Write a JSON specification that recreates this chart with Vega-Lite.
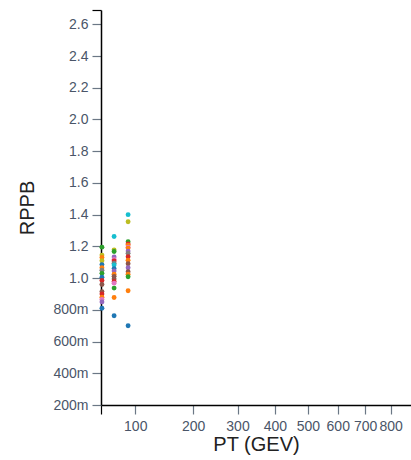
{
  "$schema": "https://vega.github.io/schema/vega-lite/v6.json",
  "width": 310,
  "height": 395,
  "autosize": "none",
  "padding": {"left": 101, "top": 10, "right": 0, "bottom": 55},
  "background": "white",
  "config": {"view": {"stroke": null}, "font": "Liberation Sans"},
  "data": {"values": [
    {"pt": 58, "rppb": 1.195, "series": "S2"},
    {"pt": 58, "rppb": 1.145, "series": "S8"},
    {"pt": 58, "rppb": 1.13, "series": "S1"},
    {"pt": 58, "rppb": 1.11, "series": "S8"},
    {"pt": 58, "rppb": 1.085, "series": "S0"},
    {"pt": 58, "rppb": 1.065, "series": "S1"},
    {"pt": 58, "rppb": 1.05, "series": "S7"},
    {"pt": 58, "rppb": 1.03, "series": "S2"},
    {"pt": 58, "rppb": 1.005, "series": "S0"},
    {"pt": 58, "rppb": 0.985, "series": "S3"},
    {"pt": 58, "rppb": 0.96, "series": "S5"},
    {"pt": 58, "rppb": 0.915, "series": "S5"},
    {"pt": 58, "rppb": 0.9, "series": "S3"},
    {"pt": 58, "rppb": 0.88, "series": "S1"},
    {"pt": 58, "rppb": 0.865, "series": "S6"},
    {"pt": 58, "rppb": 0.85, "series": "S4"},
    {"pt": 58, "rppb": 0.81, "series": "S0"},
    {"pt": 72, "rppb": 1.262, "series": "S9"},
    {"pt": 72, "rppb": 1.178, "series": "S8"},
    {"pt": 72, "rppb": 1.168, "series": "S2"},
    {"pt": 72, "rppb": 1.133, "series": "S4"},
    {"pt": 72, "rppb": 1.118, "series": "S6"},
    {"pt": 72, "rppb": 1.108, "series": "S3"},
    {"pt": 72, "rppb": 1.094, "series": "S7"},
    {"pt": 72, "rppb": 1.083, "series": "S9"},
    {"pt": 72, "rppb": 1.06, "series": "S0"},
    {"pt": 72, "rppb": 1.045, "series": "S4"},
    {"pt": 72, "rppb": 1.025, "series": "S1"},
    {"pt": 72, "rppb": 1.011, "series": "S5"},
    {"pt": 72, "rppb": 0.995, "series": "S5"},
    {"pt": 72, "rppb": 0.979, "series": "S3"},
    {"pt": 72, "rppb": 0.968, "series": "S6"},
    {"pt": 72, "rppb": 0.937, "series": "S2"},
    {"pt": 72, "rppb": 0.878, "series": "S1"},
    {"pt": 72, "rppb": 0.763, "series": "S0"},
    {"pt": 90, "rppb": 1.4, "series": "S9"},
    {"pt": 90, "rppb": 1.355, "series": "S8"},
    {"pt": 90, "rppb": 1.229, "series": "S2"},
    {"pt": 90, "rppb": 1.215, "series": "S3"},
    {"pt": 90, "rppb": 1.208, "series": "S1"},
    {"pt": 90, "rppb": 1.195, "series": "S6"},
    {"pt": 90, "rppb": 1.189, "series": "S1"},
    {"pt": 90, "rppb": 1.17, "series": "S4"},
    {"pt": 90, "rppb": 1.156, "series": "S7"},
    {"pt": 90, "rppb": 1.135, "series": "S3"},
    {"pt": 90, "rppb": 1.113, "series": "S1"},
    {"pt": 90, "rppb": 1.09, "series": "S5"},
    {"pt": 90, "rppb": 1.065, "series": "S4"},
    {"pt": 90, "rppb": 1.04, "series": "S5"},
    {"pt": 90, "rppb": 1.025, "series": "S1"},
    {"pt": 90, "rppb": 1.008, "series": "S2"},
    {"pt": 90, "rppb": 0.92, "series": "S1"},
    {"pt": 90, "rppb": 0.7, "series": "S0"}
  ]},
  "mark": {"type": "point", "filled": true, "size": 24, "opacity": 1},
  "encoding": {
    "x": {
      "field": "pt", "type": "quantitative",
      "scale": {"type": "sqrt", "domain": [56.97, 884.5], "zero": false, "nice": false},
      "axis": {
        "title": "PT (GEV)",
        "values": [56.97, 100, 200, 300, 400, 500, 600, 700, 800],
        "labelExpr": "datum.value < 60 ? '' : format(datum.value, 'd')",
        "grid": false,
        "domainColor": "black", "domainWidth": 1.5,
        "tickColor": {"condition": {"test": "datum.value < 60", "value": "black"}, "value": "#6b7785"},
        "tickSize": 9, "tickWidth": 1.2,
        "labelColor": "#4a5568", "labelFontSize": 14, "labelPadding": 5,
        "labelOverlap": false,
        "titleFontSize": 20, "titleFontWeight": "normal", "titleColor": "#222222", "titlePadding": 1
      }
    },
    "y": {
      "field": "rppb", "type": "quantitative",
      "scale": {"domain": [0.2, 2.69], "zero": false, "nice": false},
      "axis": {
        "title": "RPPB",
        "values": [0.2, 0.4, 0.6, 0.8, 1.0, 1.2, 1.4, 1.6, 1.8, 2.0, 2.2, 2.4, 2.6, 2.69],
        "labelExpr": "datum.value > 2.65 ? '' : format(datum.value, '.2s')",
        "grid": false,
        "domainColor": "black", "domainWidth": 1.5,
        "tickColor": {"condition": {"test": "datum.value > 2.65", "value": "black"}, "value": "#6b7785"},
        "tickSize": 9, "tickWidth": 1.2,
        "labelColor": "#4a5568", "labelFontSize": 14, "labelPadding": 4,
        "labelOverlap": false,
        "titleFontSize": 20, "titleFontWeight": "normal", "titleColor": "#222222", "titlePadding": 15
      }
    },
    "color": {
      "field": "series", "type": "nominal",
      "scale": {"domain": ["S0", "S1", "S2", "S3", "S4", "S5", "S6", "S7", "S8", "S9"], "scheme": "category10"},
      "legend": null
    }
  }
}
